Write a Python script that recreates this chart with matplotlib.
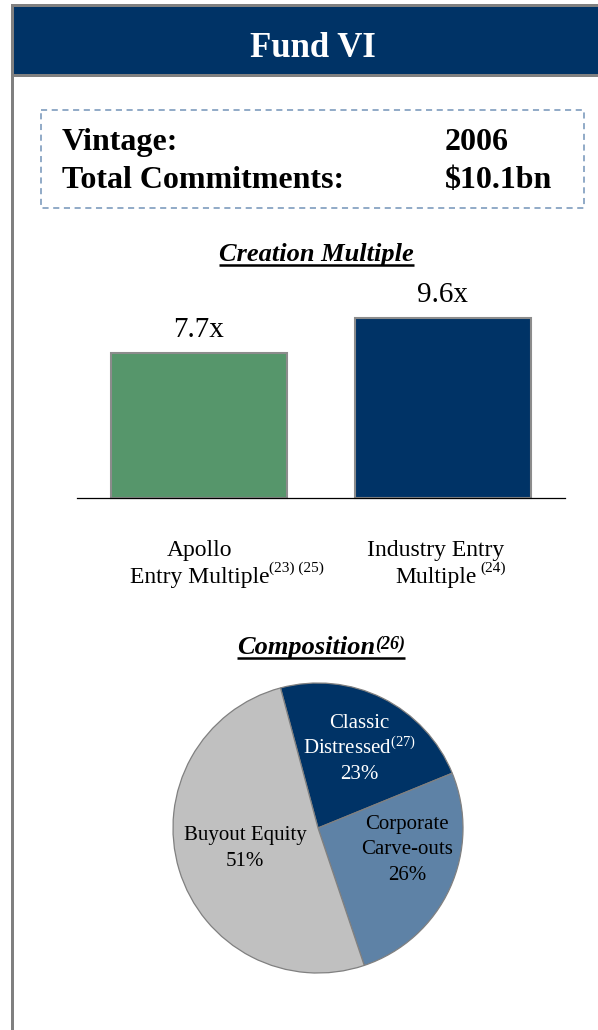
import matplotlib
matplotlib.use('Agg')
import matplotlib.pyplot as plt
from matplotlib.patches import Rectangle

plt.rcParams['font.family'] = ['Liberation Serif', 'DejaVu Serif']
plt.rcParams['mathtext.fontset'] = 'custom'
plt.rcParams['mathtext.rm'] = 'Liberation Serif'
plt.rcParams['mathtext.it'] = 'Liberation Serif:italic'
plt.rcParams['mathtext.bf'] = 'Liberation Serif:bold'

# data
title = 'Fund VI'
info_labels = ['Vintage:', 'Total Commitments:']
info_values = ['2006', '$10.1bn']
bar_names = [('Apollo', 'Entry Multiple', '(23) (25)'),
             ('Industry Entry', 'Multiple', '(24)')]
multiples = [7.7, 9.6]
bar_colors = ['#56966B', '#003366']
slice_names = ['Classic\nDistressed$^{(27)}$', 'Corporate\nCarve-outs', 'Buyout Equity']
slice_shares = [23, 26, 51]
slice_colors = ['#003366', '#5E82A6', '#C0C0C0']
slice_text_colors = ['white', 'black', 'black']

W, H = 598, 1030
fig = plt.figure(figsize=(W / 100, H / 100), dpi=100)
fig.patch.set_facecolor('white')


def pixel_axes(z):
    a = fig.add_axes([0, 0, 1, 1], zorder=z)
    a.set_xlim(0, W)
    a.set_ylim(H, 0)
    a.axis('off')
    return a


# background axes in pixel coordinates
ax0 = pixel_axes(0)

grey = '#808080'
ax0.add_patch(Rectangle((11, 4), W - 11, 3, color=grey, lw=0))
ax0.add_patch(Rectangle((11, 4), 3, H - 4, color=grey, lw=0))
ax0.add_patch(Rectangle((14, 7), W - 14, 67, color='#003366', lw=0))
ax0.add_patch(Rectangle((14, 74), W - 14, 3, color=grey, lw=0))
ax0.text(313, 57, title, color='white', fontsize=25, fontweight='bold',
         ha='center', va='baseline')

# info box
ax0.add_patch(Rectangle((40.5, 109.5), 543, 98, fill=False, ec='#7393B8',
                        lw=1.1, ls=(0, (4, 3))))
for i, (lab, val) in enumerate(zip(info_labels, info_values)):
    y = 150 + i * 38
    ax0.text(62, y, lab, fontsize=23, fontweight='bold', ha='left', va='baseline')
    ax0.text(445, y, val, fontsize=23, fontweight='bold', ha='left', va='baseline')

r = fig.canvas.get_renderer()


def extent(t):
    bb = t.get_window_extent(renderer=r)
    return bb.x0, bb.x1


def underlined_title(x, y, s, sup=None):
    t = ax0.text(x, y, s, fontsize=19, fontweight='bold', fontstyle='italic',
                 ha='left', va='baseline')
    x0, x1 = extent(t)
    if sup:
        t2 = ax0.text(x1, y - 5, sup, fontsize=13, fontweight='bold',
                      fontstyle='italic', ha='left', va='baseline')
        x1 = extent(t2)[1]
    ax0.plot([x0, x1], [y + 4, y + 4], color='black', lw=1.8,
             solid_capstyle='butt')


underlined_title(219, 261, 'Creation Multiple')

# bar chart
scale = 18.8
top = 280
ax1 = fig.add_axes([77 / W, 1 - 498 / H, (565 - 77) / W, (498 - top) / H], zorder=1)
ax1.set_xlim(-0.5, 1.5)
ax1.set_ylim(0, (498 - top) / scale)
ax1.bar(range(len(multiples)), multiples, width=0.72, color=bar_colors,
        edgecolor='#8C8C8C', linewidth=1.5, clip_on=False, zorder=2)
for i, v in enumerate(multiples):
    ax1.annotate(f'{v}x', xy=(i, v), xytext=(0, 11.5), textcoords='offset points',
                 ha='center', va='baseline', fontsize=21)
for s in ['top', 'left', 'right']:
    ax1.spines[s].set_visible(False)
ax1.spines['bottom'].set_linewidth(0.9)
ax1.spines['bottom'].set_zorder(3)
ax1.set_xticks([])
ax1.set_yticks([])
ax1.patch.set_alpha(0)

label_x = [200, 436]
for (l1, l2, sup), x in zip(bar_names, label_x):
    ax0.text(x, 556, l1, fontsize=17, ha='center', va='baseline')
    t = ax0.text(x, 583, l2, fontsize=17, ha='center', va='baseline')
    x1 = extent(t)[1]
    gap = -1 if sup.startswith('(23') else 4
    ax0.text(x1 + gap, 572, sup, fontsize=11, ha='left', va='baseline')

underlined_title(237, 654, 'Composition', '(26)')

# pie chart
cx, cy, rad = 318, 828, 145
pad = 2
ax2 = fig.add_axes([(cx - rad - pad) / W, 1 - (cy + rad + pad) / H,
                    2 * (rad + pad) / W, 2 * (rad + pad) / H], zorder=2)
ax2.pie(slice_shares, colors=slice_colors, startangle=105, counterclock=False,
        wedgeprops=dict(edgecolor=grey, linewidth=0.9))
lim = (rad + pad) / rad
ax2.set_xlim(-lim, lim)
ax2.set_ylim(-lim, lim)

# slice labels on an overlay so they sit above the pie
ax3 = pixel_axes(3)
label_pos = [(359, 728), (407, 829), (245, 840)]
for name, share, col, (x, y) in zip(slice_names, slice_shares, slice_text_colors, label_pos):
    lines = name.split('\n') + [f'{share}%']
    for k, line in enumerate(lines):
        ax3.text(x, y + k * 25.5, line, fontsize=15, color=col,
                 ha='center', va='baseline')

fig.savefig('out.png', dpi=100)
